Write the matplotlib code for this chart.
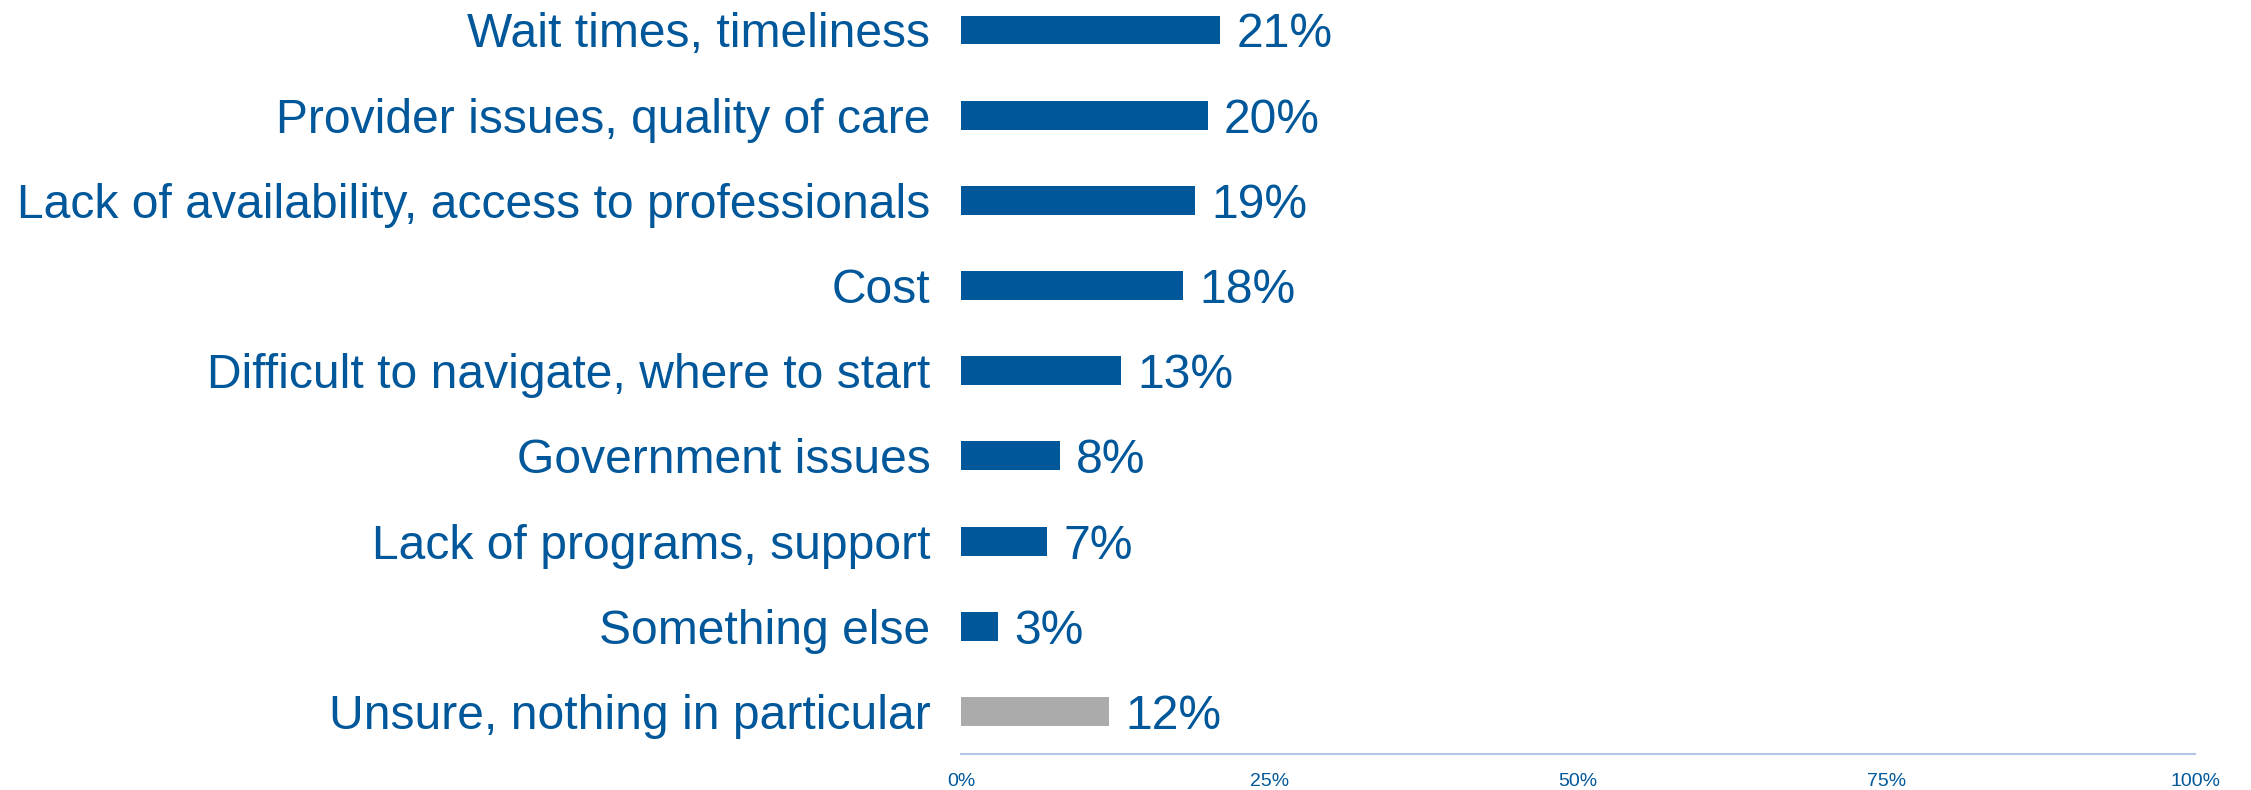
import matplotlib.pyplot as plt
from matplotlib.ticker import PercentFormatter

categories = [
    "Wait times, timeliness",
    "Provider issues, quality of care",
    "Lack of availability, access to professionals",
    "Cost",
    "Difficult to navigate, where to start",
    "Government issues",
    "Lack of programs, support",
    "Something else",
    "Unsure, nothing in particular",
]
values = [21, 20, 19, 18, 13, 8, 7, 3, 12]
ticks = [0, 25, 50, 75, 100]

blue = "#00579A"
grey = "#ABABAB"
colors = [blue] * 8 + [grey]

plt.rcParams["font.family"] = ["Liberation Sans", "DejaVu Sans"]

fig = plt.figure(figsize=(22.51, 7.9), dpi=100)
ax = fig.add_axes([961 / 2251, 1 - 754 / 790, (2195 - 961) / 2251, 754 / 790])

y = list(range(len(categories)))
ax.barh(y, values, height=0.34, color=colors)

for yi, v in zip(y, values):
    ax.annotate(f"{v}%", (v, yi), xytext=(16, 0), textcoords="offset pixels",
                ha="left", va="center_baseline", fontsize=34.6, color=blue)

ax.set_xlim(0, 100)
ax.set_ylim(8.5, -0.352)
ax.set_xticks(ticks)
ax.xaxis.set_major_formatter(PercentFormatter(decimals=0))
ax.tick_params(axis="x", length=0, pad=14, labelsize=14, labelcolor=blue)
ax.set_yticks(y)
ax.set_yticklabels(categories, va="center_baseline")
ax.tick_params(axis="y", length=0, pad=22, labelsize=34.6, labelcolor=blue)

for side in ["top", "right", "left"]:
    ax.spines[side].set_visible(False)
ax.spines["bottom"].set_color("#B4C7E7")
ax.spines["bottom"].set_linewidth(1.5)

fig.savefig("out.png", dpi=100)
